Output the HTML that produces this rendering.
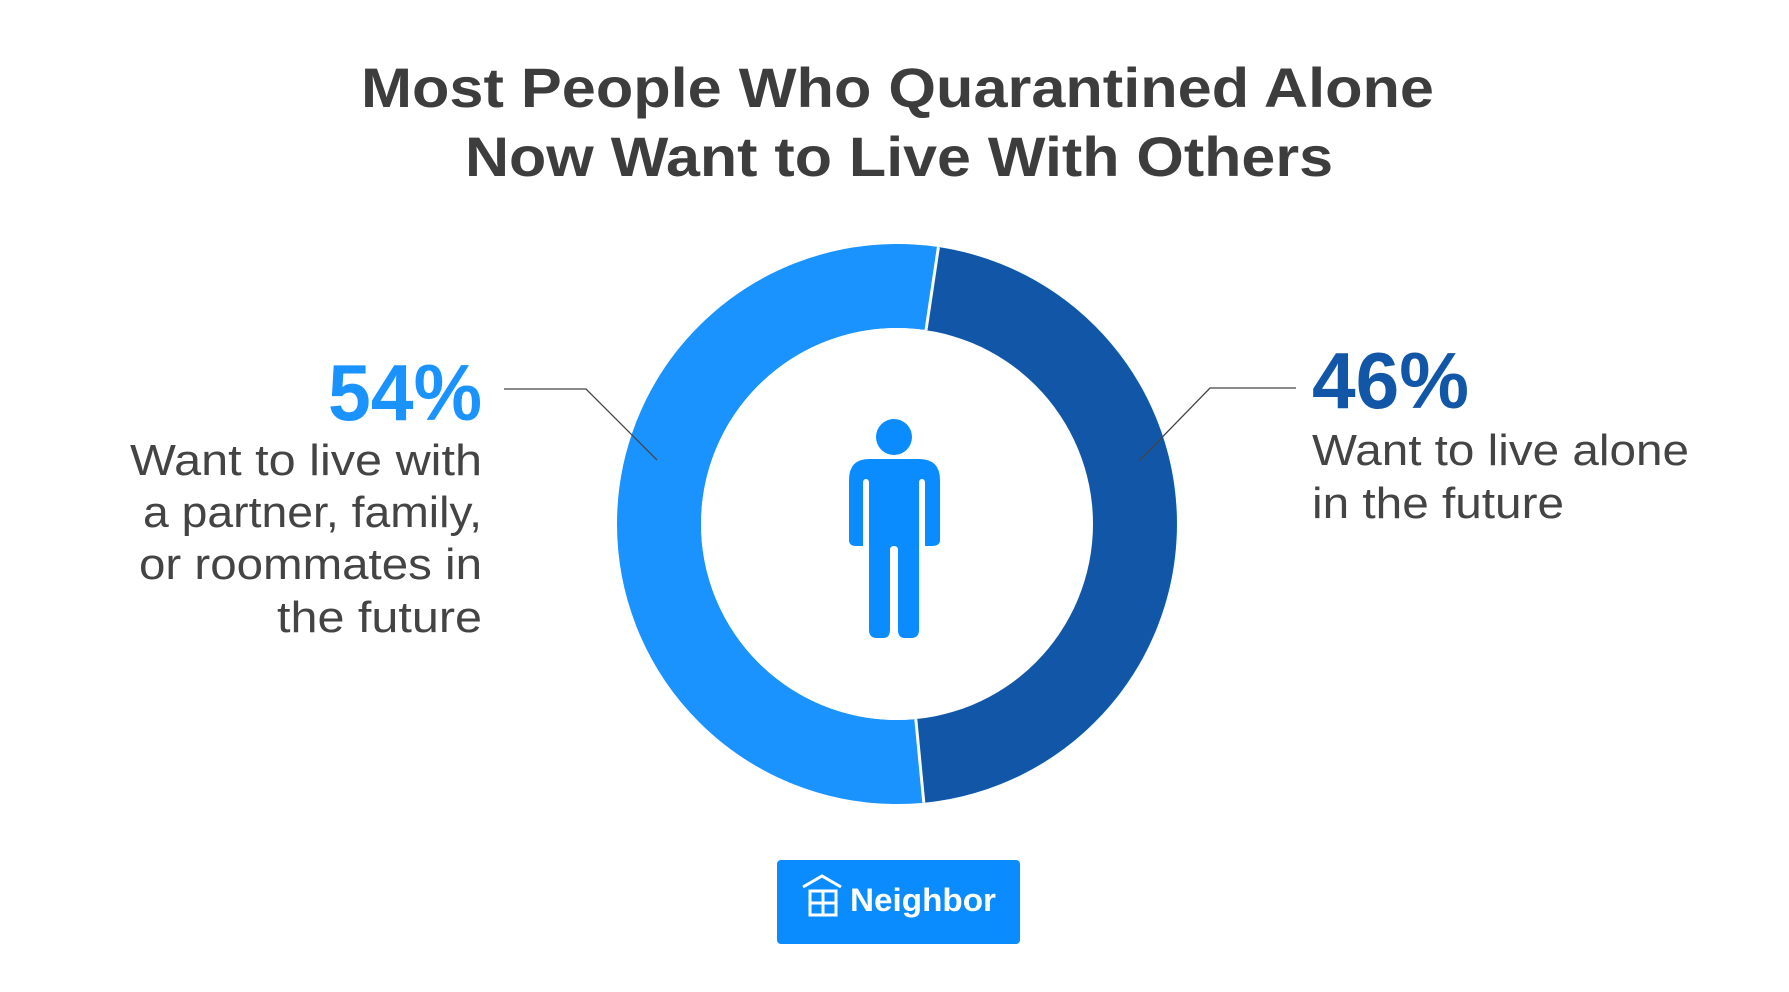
<!DOCTYPE html>
<html><head><meta charset="utf-8"><style>
html,body{margin:0;padding:0;background:#fff;}
svg{display:block;}
text{font-family:"Liberation Sans",sans-serif;}
</style></head><body>
<svg width="1789" height="992" viewBox="0 0 1789 992" xmlns="http://www.w3.org/2000/svg">
<g fill="#3d3d3d" font-weight="bold" font-size="56">
<text x="361" y="107" textLength="1073" lengthAdjust="spacingAndGlyphs">Most People Who Quarantined Alone</text>
<text x="465" y="176" textLength="868" lengthAdjust="spacingAndGlyphs">Now Want to Live With Others</text>
</g>
<!-- donut -->
<circle cx="897" cy="524" r="238" fill="none" stroke="#1a93ff" stroke-width="84"/>
<path d="M 897 524 L 938.4 247.1 A 280 280 0 0 1 923.8 802.7 Z" fill="#1257a7"/>
<circle cx="897" cy="524" r="196" fill="#fff"/>
<line x1="926" y1="330.2" x2="938.4" y2="247.1" stroke="#fff" stroke-width="3"/>
<line x1="915.8" y1="719.1" x2="923.8" y2="802.7" stroke="#fff" stroke-width="3"/>
<!-- person -->
<g fill="#0a8cff">
<circle cx="894" cy="437" r="18"/>
<path d="M869 459 H919 Q940 459 940 480 V540 Q940 546 932 546 H925 V483 Q925 479 922 479 Q919 479 919 483 V630 Q919 638 911 638 H905 Q898 638 898 630 V550 Q898 546 894 546 Q890 546 890 550 V630 Q890 638 883 638 H877 Q869 638 869 630 V483 Q869 479 866 479 Q863 479 863 483 V546 H856 Q849 546 849 540 V480 Q849 459 869 459 Z"/>
</g>
<!-- leaders -->
<polyline points="504,389 586,389 657,460" fill="none" stroke="#444" stroke-width="1.3"/>
<polyline points="1296,388 1210,388 1139,461" fill="none" stroke="#444" stroke-width="1.3"/>
<!-- left labels -->
<text x="328" y="420" textLength="154" lengthAdjust="spacingAndGlyphs" font-size="80" font-weight="bold" fill="#1a93ff">54%</text>
<g font-size="44" fill="#444">
<text x="130" y="475" textLength="352" lengthAdjust="spacingAndGlyphs">Want to live with</text>
<text x="143" y="527" textLength="339" lengthAdjust="spacingAndGlyphs">a partner, family,</text>
<text x="139" y="579" textLength="343" lengthAdjust="spacingAndGlyphs">or roommates in</text>
<text x="277" y="632" textLength="205" lengthAdjust="spacingAndGlyphs">the future</text>
</g>
<!-- right labels -->
<text x="1312" y="408" textLength="157" lengthAdjust="spacingAndGlyphs" font-size="80" font-weight="bold" fill="#1257a7">46%</text>
<g font-size="44" fill="#444">
<text x="1312" y="465" textLength="377" lengthAdjust="spacingAndGlyphs">Want to live alone</text>
<text x="1312" y="518" textLength="252" lengthAdjust="spacingAndGlyphs">in the future</text>
</g>
<!-- logo -->
<rect x="777" y="860" width="243" height="84" rx="4" fill="#0a8cff"/>
<g fill="none" stroke="#fff" stroke-width="3">
<polyline points="803,887 822,876 841,887"/>
<rect x="810" y="891" width="26" height="24"/>
<line x1="823" y1="891" x2="823" y2="915"/>
<line x1="810" y1="903" x2="836" y2="903"/>
</g>
<text x="850" y="911" textLength="146" lengthAdjust="spacingAndGlyphs" font-size="32" font-weight="bold" fill="#fff">Neighbor</text>
</svg>
</body></html>
